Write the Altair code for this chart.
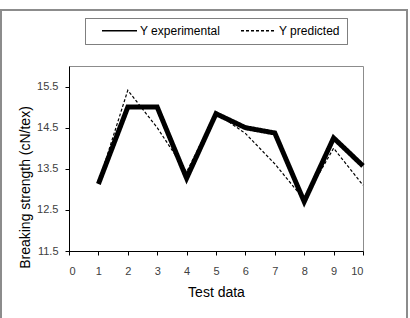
import altair as alt
import pandas as pd

# Test samples and breaking strength (cN/tex)
test_data = [1, 2, 3, 4, 5, 6, 7, 8, 9, 10]
y_experimental = [13.13, 15.0, 15.0, 13.27, 14.84, 14.5, 14.37, 12.7, 14.25, 13.57]
y_predicted = [13.15, 15.41, 14.5, 13.42, 14.86, 14.36, 13.62, 12.75, 14.0, 13.1]

series_names = ["Y experimental", "Y predicted"]
y_ticks = [11.5, 12.5, 13.5, 14.5, 15.5]
x_ticks = [0, 1, 2, 3, 4, 5, 6, 7, 8, 9, 10]

df = pd.DataFrame(
    {
        "test": test_data * 2,
        "value": y_experimental + y_predicted,
        "series": [series_names[0]] * len(test_data) + [series_names[1]] * len(test_data),
    }
)

FONT = "Liberation Sans"
W, H = 294, 185

x_enc = alt.X(
    "test:Q",
    scale=alt.Scale(domain=[0, 10], nice=False, zero=False),
    axis=alt.Axis(
        values=x_ticks,
        title="Test data",
        titleFontSize=14,
        titleFontWeight="normal",
        titleColor="black",
        titlePadding=9,
        labelPadding=10,
        tickSize=4,
        labelFontSize=11,
    ),
)
y_enc = alt.Y(
    "value:Q",
    scale=alt.Scale(domain=[11.5, 16], nice=False, zero=False),
    axis=alt.Axis(
        values=y_ticks,
        format=".1f",
        title="Breaking strength (cN/tex)",
        titleFontSize=14,
        titleFontWeight="normal",
        titleColor="black",
        titleX=-37,
        titleY=121,
        labelPadding=7,
        tickSize=4,
        labelFontSize=11,
    ),
)
dash_enc = alt.StrokeDash(
    "series:N",
    scale=alt.Scale(domain=series_names, range=[[1, 0], [3, 2]]),
    legend=alt.Legend(
        title=None,
        orient="none",
        direction="horizontal",
        legendX=32,
        legendY=-54,
        symbolType="stroke",
        symbolSize=1225,
        symbolStrokeWidth=1.3,
        symbolStrokeColor="black",
        labelFontSize=12,
        labelColor="black",
        labelOffset=2,
        columnPadding=17,
        padding=0,
    ),
)

base = alt.Chart(df).encode(x=x_enc, y=y_enc, strokeDash=dash_enc)

experimental = base.transform_filter(
    alt.datum.series == series_names[0]
).mark_line(color="black", strokeWidth=5, strokeJoin="miter", strokeCap="butt", clip=False)

predicted = base.transform_filter(
    alt.datum.series == series_names[1]
).mark_line(color="black", strokeWidth=1.2, clip=False)

# Legend frame and outer chart border
legend_box = alt.Chart(df).mark_rect(
    fill="white", stroke="#7f7f7f", strokeWidth=1, clip=False
).encode(
    x=alt.value(16.5), x2=alt.value(278.5), y=alt.value(-47.5), y2=alt.value(-21.5)
)
outer_box = alt.Chart(df).mark_rect(
    fill=None, stroke="#8c8c8c", strokeWidth=2, clip=False
).encode(
    x=alt.value(-68), x2=alt.value(338), y=alt.value(-56), y2=alt.value(262)
)

chart = (
    alt.layer(outer_box, legend_box, experimental, predicted)
    .properties(
        width=W,
        height=H,
        autosize=alt.AutoSizeParams(type="none"),
        padding={"left": 69, "top": 66, "right": 47, "bottom": 67},
        background="white",
    )
    .configure_view(stroke="#8c8c8c", strokeWidth=1)
    .configure_axis(
        grid=False,
        domainColor="black",
        tickColor="black",
        labelColor="#404040",
        labelFont=FONT,
        titleFont=FONT,
    )
    .configure_legend(labelFont=FONT)
    .configure_text(font=FONT)
)

chart.save("out.html", embed_options={"renderer": "svg", "actions": False})
